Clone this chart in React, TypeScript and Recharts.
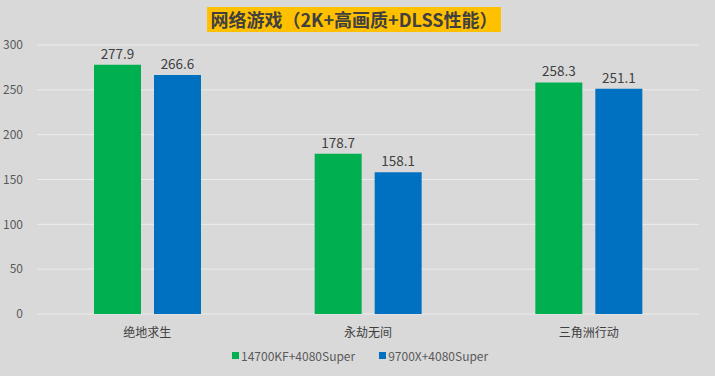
import React from 'react';
import { BarChart, Bar, XAxis, YAxis, CartesianGrid, LabelList } from 'recharts';

// 网络游戏（2K+高画质+DLSS性能）
const games = ['绝地求生', '永劫无间', '三角洲行动'];
const intelValues = [277.9, 178.7, 258.3];
const amdValues = [266.6, 158.1, 251.1];
const seriesNames = ['14700KF+4080Super', '9700X+4080Super'];
const yTicks = [0, 50, 100, 150, 200, 250, 300];

const GREEN = '#00b050';
const BLUE = '#0070c0';
const FONT = '"Noto Sans CJK SC", "Noto Sans", sans-serif';

const data = games.map((name, i) => ({
  name,
  intel: intelValues[i],
  amd: amdValues[i],
}));

export default function App() {
  return (
    <div
      style={{
        position: 'fixed',
        left: 0,
        top: 0,
        width: 715,
        height: 376,
        background: '#d9d9d9',
        fontFamily: FONT,
        overflow: 'hidden',
      }}
    >
      <div
        style={{
          position: 'absolute',
          left: 207,
          top: 7,
          width: 294,
          height: 25,
          background: '#ffc000',
          color: '#404040',
          fontWeight: 700,
          fontSize: 18,
          lineHeight: '25px',
          textAlign: 'center',
          whiteSpace: 'nowrap',
        }}
      >
        网络游戏（2K+高画质+DLSS性能）
      </div>

      <BarChart
        width={715}
        height={376}
        data={data}
        margin={{ top: 45, right: 16, left: 0, bottom: 32 }}
        barSize={47}
        barGap={13}
        barCategoryGap={57}
      >
        <CartesianGrid vertical={false} stroke="#ececec" />
        <XAxis
          dataKey="name"
          axisLine={false}
          tickLine={false}
          height={30}
          tick={{ fill: '#404040', fontSize: 12, fontFamily: FONT }}
          tickMargin={8}
        />
        <YAxis
          domain={[0, 300]}
          ticks={yTicks}
          axisLine={false}
          tickLine={false}
          width={37}
          tick={{ fill: '#595959', fontSize: 12, fontFamily: FONT }}
          tickMargin={8}
        />
        <Bar dataKey="intel" fill={GREEN} isAnimationActive={false}>
          <LabelList
            dataKey="intel"
            position="top"
            offset={6}
            style={{ fill: '#404040', fontSize: 13.5, fontFamily: FONT }}
          />
        </Bar>
        <Bar dataKey="amd" fill={BLUE} isAnimationActive={false}>
          <LabelList
            dataKey="amd"
            position="top"
            offset={6}
            style={{ fill: '#404040', fontSize: 13.5, fontFamily: FONT }}
          />
        </Bar>
      </BarChart>

      <div
        style={{
          position: 'absolute',
          left: 232,
          top: 347,
          display: 'flex',
          gap: 24,
          fontSize: 12,
          color: '#595959',
          whiteSpace: 'nowrap',
        }}
      >
        {seriesNames.map((s, i) => (
          <div key={s} style={{ display: 'flex', alignItems: 'center' }}>
            <span
              style={{
                display: 'inline-block',
                width: 7,
                height: 7,
                background: i === 0 ? GREEN : BLUE,
                marginRight: 2,
              }}
            />
            {s}
          </div>
        ))}
      </div>
    </div>
  );
}
